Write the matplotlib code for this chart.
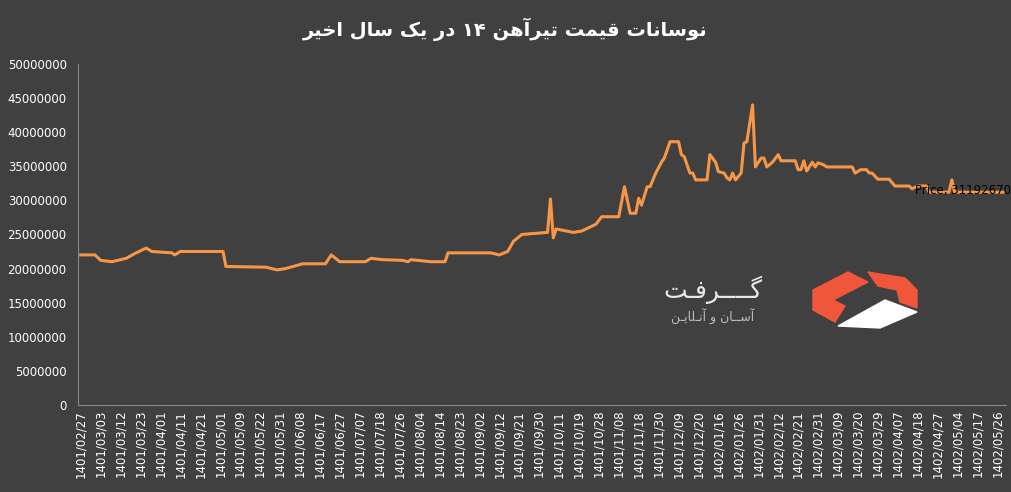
import matplotlib
matplotlib.use("Agg")
import matplotlib.pyplot as plt
from matplotlib.patches import Polygon

# sample index (about 7 steps per date label) and price
idx = [0, 5, 7, 11, 16, 19, 23, 25, 32, 33, 35, 50, 51, 65, 69, 72, 78, 86, 88, 91,
       100, 102, 106, 113, 115, 116, 123, 128, 129, 144, 147, 150, 152, 155, 164, 165,
       166, 167, 173, 176, 181, 183, 189, 191, 193, 195, 196, 197, 199, 200, 202, 204,
       205, 207, 210, 211, 212, 214, 215, 216, 220, 221, 223, 224, 226, 227, 228, 229,
       230, 232, 233, 234, 236, 237, 239, 240, 241, 243, 245, 246, 251, 252, 253, 254,
       255, 257, 258, 259, 261, 262, 271, 272, 274, 276, 277, 278, 280, 284, 286, 291,
       292, 294, 297, 298, 305, 306, 307, 324]
price_m = [22.0, 22.0, 21.2, 21.0, 21.5, 22.2, 23.0, 22.5, 22.3, 22.0, 22.5, 22.5, 20.3,
           20.2, 19.8, 20.0, 20.7, 20.7, 22.0, 21.0, 21.0, 21.5, 21.3, 21.2, 21.0, 21.3,
           21.0, 21.0, 22.3, 22.3, 22.0, 22.5, 24.0, 25.0, 25.3, 30.2, 24.5, 25.8, 25.3,
           25.5, 26.5, 27.6, 27.6, 32.0, 28.1, 28.1, 30.3, 29.3, 32.0, 32.0, 34.0, 35.6,
           36.2, 38.6, 38.6, 36.7, 36.4, 34.0, 34.0, 33.0, 33.0, 36.7, 35.6, 34.2, 34.0,
           33.3, 33.0, 34.0, 33.0, 34.0, 38.4, 38.6, 44.0, 34.9, 36.2, 36.2, 34.9, 35.6,
           36.7, 35.8, 35.8, 34.5, 34.5, 35.8, 34.3, 35.6, 34.9, 35.5, 35.2, 34.9, 34.9,
           34.0, 34.5, 34.5, 34.0, 34.0, 33.1, 33.1, 32.1, 32.1, 31.7, 32.1, 32.1, 31.2,
           31.2, 33.0, 31.2, 31.19267]
prices = [p * 1e6 for p in price_m]

date_labels = ["1401/02/27", "1401/03/03", "1401/03/12", "1401/03/23", "1401/04/01",
               "1401/04/11", "1401/04/21", "1401/05/01", "1401/05/09", "1401/05/22",
               "1401/05/31", "1401/06/08", "1401/06/17", "1401/06/27", "1401/07/07",
               "1401/07/18", "1401/07/26", "1401/08/04", "1401/08/14", "1401/08/23",
               "1401/09/02", "1401/09/12", "1401/09/21", "1401/09/30", "1401/10/11",
               "1401/10/19", "1401/10/28", "1401/11/08", "1401/11/18", "1401/11/30",
               "1401/12/09", "1401/12/20", "1402/01/16", "1402/01/26", "1402/01/31",
               "1402/02/12", "1402/02/21", "1402/02/31", "1402/03/09", "1402/03/20",
               "1402/03/29", "1402/04/07", "1402/04/18", "1402/04/27", "1402/05/04",
               "1402/05/17", "1402/05/26"]

FORMS = {  # isolated, final, initial, medial
    "ا": (0xFE8D, 0xFE8E), "آ": (0xFE81, 0xFE82), "د": (0xFEA9, 0xFEAA),
    "ر": (0xFEAD, 0xFEAE), "و": (0xFEED, 0xFEEE),
    "ـ": (0x640, 0x640, 0x640, 0x640),
    "ت": (0xFE95, 0xFE96, 0xFE97, 0xFE98), "خ": (0xFEA5, 0xFEA6, 0xFEA7, 0xFEA8),
    "س": (0xFEB1, 0xFEB2, 0xFEB3, 0xFEB4), "ف": (0xFED1, 0xFED2, 0xFED3, 0xFED4),
    "ق": (0xFED5, 0xFED6, 0xFED7, 0xFED8), "ل": (0xFEDD, 0xFEDE, 0xFEDF, 0xFEE0),
    "م": (0xFEE1, 0xFEE2, 0xFEE3, 0xFEE4), "ن": (0xFEE5, 0xFEE6, 0xFEE7, 0xFEE8),
    "ه": (0xFEE9, 0xFEEA, 0xFEEB, 0xFEEC), "ی": (0xFBFC, 0xFBFD, 0xFBFE, 0xFBFF),
    "ک": (0xFB8E, 0xFB8F, 0xFB90, 0xFB91), "گ": (0xFB92, 0xFB93, 0xFB94, 0xFB95),
}


def shape(text):
    """Very small Persian shaper: contextual forms + RTL order (digits kept LTR)."""
    out = []
    for i, ch in enumerate(text):
        f = FORMS.get(ch)
        if f is None:
            out.append(ch)
            continue
        prev = text[i - 1] if i > 0 else " "
        nxt = text[i + 1] if i + 1 < len(text) else " "
        join_prev = prev in FORMS and len(FORMS[prev]) == 4
        join_next = nxt in FORMS and len(f) == 4
        if join_prev and join_next:
            out.append(chr(f[3]))
        elif join_prev:
            out.append(chr(f[1]))
        elif join_next:
            out.append(chr(f[2]))
        else:
            out.append(chr(f[0]))
    # group digit runs so they stay left-to-right
    runs = []
    for ch in out:
        if ch.isdigit() and runs and runs[-1][0].isdigit():
            runs[-1] += ch
        else:
            runs.append(ch)
    return "".join(reversed(runs))


BG = "#404040"
fig = plt.figure(figsize=(10.11, 4.92), dpi=100, facecolor=BG)
ax = fig.add_axes([0.077, 0.177, 0.918, 0.693], facecolor=BG)

ax.plot(idx, prices, color="#f79646", linewidth=2.2)
ax.set_xlim(-1, 325)
ax.set_ylim(0, 50_000_000)
ax.set_yticks(range(0, 50_000_001, 5_000_000))
ax.set_yticklabels([str(v) for v in range(0, 50_000_001, 5_000_000)])
ax.set_xticks([i * 7 for i in range(len(date_labels))])
ax.set_xticklabels(date_labels, rotation=90)
ax.tick_params(colors="white", labelsize=8.5, length=0)
ax.tick_params(axis="y", pad=8)
for s in ["top", "right"]:
    ax.spines[s].set_visible(False)
for s in ["left", "bottom"]:
    ax.spines[s].set_color("#888888")

ax.annotate(f"Price, {int(prices[-1])}", (idx[-1], prices[-1]), xytext=(6, 1),
            textcoords="offset points", ha="right", va="center", fontsize=8.5,
            color="black", annotation_clip=False)

fig.text(0.5, 0.94, shape("نوسانات قیمت تیرآهن ۱۴ در یک سال اخیر"), color="white",
         fontsize=14, fontweight="bold", ha="center", va="center")

# logo
fig.text(0.705, 0.41, shape("گــــرفـت"), color="#e8e8e8", fontsize=18, ha="center", va="center")
fig.text(0.705, 0.358, shape("آســان و آنـلایـن"), color="#bbbbbb", fontsize=9,
         ha="center", va="center")
W, H = 1011, 492


def px(pts):
    return [(x / W, 1 - y / H) for x, y in pts]


for pts, col in [
    ([(813, 290), (848, 272), (868, 282), (833, 300), (845, 306), (835, 322), (813, 310)], "#f0573a"),
    ([(868, 272), (905, 278), (917, 290), (917, 308), (900, 302), (897, 290), (878, 286)], "#f0573a"),
    ([(838, 326), (885, 300), (917, 312), (880, 328)], "white"),
]:
    fig.patches.append(Polygon(px(pts), closed=True, transform=fig.transFigure, color=col))

fig.savefig("out.png", dpi=100, facecolor=BG)
